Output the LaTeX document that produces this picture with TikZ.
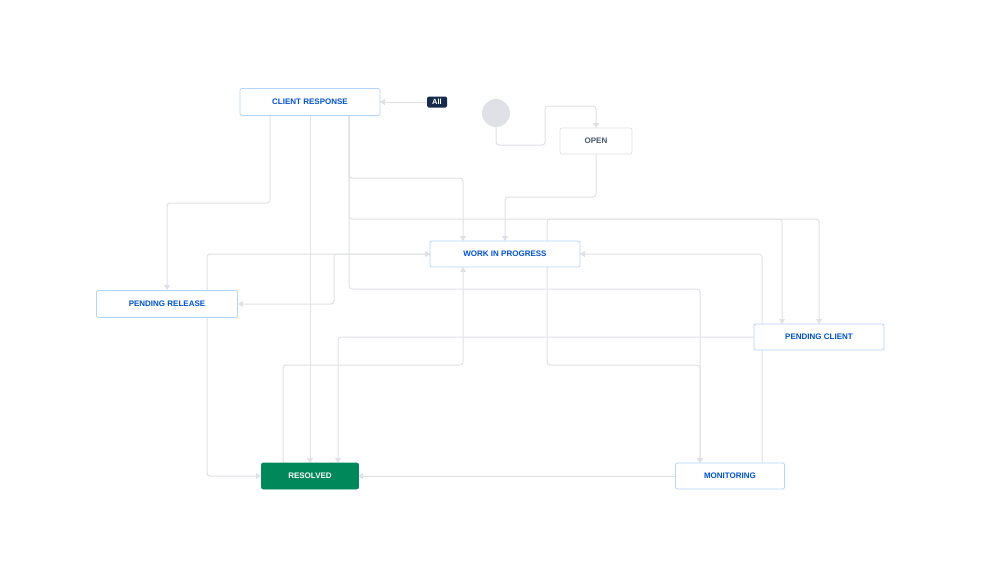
\documentclass[tikz,border=0pt]{standalone}
\usepackage{fontspec}
\setmainfont{Liberation Sans}
\usetikzlibrary{arrows.meta}
\definecolor{edge}{HTML}{DFE1E6}
\definecolor{jblue}{HTML}{0052CC}
\definecolor{bordb}{HTML}{B3D4FF}
\definecolor{jgreen}{HTML}{00875A}
\definecolor{navy}{HTML}{172B4D}
\begin{document}
\begin{tikzpicture}[x=1pt,y=-1pt,
  st/.style={draw=bordb,line width=0.8pt,rounded corners=2pt,fill=white,text=jblue,font=\fontsize{8}{9}\selectfont\bfseries,inner sep=0pt},
  conn/.style={draw=edge,line width=1pt,rounded corners=3pt,-{Triangle[width=6pt,length=5pt]}}]
\useasboundingbox (0,0) rectangle (999,579);
% connectors first
\coordinate (j1) at (349,115);
\draw[conn] (427,102) -- (380,102);
\draw[conn] (496,127) -- (496,145) -- (545,145) -- (545,106) -- (596,106) -- (596,128);
\draw[conn] (596,154) -- (596,197) -- (505,197) -- (505,241);
\draw[conn] (270,115) -- (270,203) -- (167,203) -- (167,290);
\draw[conn] (310,115) -- (310,463);
\draw[conn] (349,115) -- (349,178) -- (463,178) -- (463,241);
\draw[conn] (349,115) -- (349,219) -- (819,219) -- (819,324);
\draw[conn] (349,115) -- (349,289) -- (700,289) -- (700,463);
\draw[conn] (547,241) -- (547,219) -- (782,219) -- (782,324);
\draw[conn] (207,290) -- (207,254) -- (430,254);
\draw[conn] (430,254) -- (334,254) -- (334,304) -- (238,304);
\draw[conn] (207,317) -- (207,476) -- (261,476);
\draw[conn] (754,337) -- (338,337) -- (338,463);
\draw[conn] (283,463) -- (283,365) -- (463,365) -- (463,267);
\draw[conn] (547,267) -- (547,365) -- (700,365) -- (700,463);
\draw[conn] (676,476) -- (358,476);
\draw[conn] (762,463) -- (762,254) -- (580,254);
% nodes
\node[st,minimum width=140pt,minimum height=27pt] (cr) at (310,102) {CLIENT RESPONSE};
\node[fill=navy,text=white,rounded corners=1.5pt,font=\fontsize{7.5}{8}\selectfont\bfseries,inner sep=1.5pt,minimum width=20pt,minimum height=11pt] (all) at (437,102) {All};
\node[circle,fill=edge,minimum size=28pt,inner sep=0pt] (start) at (496,113) {};
\node[st,draw=edge,text=navy!80,font=\fontsize{8}{9}\selectfont\bfseries,minimum width=72pt,minimum height=26pt] (open) at (596,141) {OPEN};
\node[st,minimum width=150pt,minimum height=26pt] (wip) at (505,254) {WORK IN PROGRESS};
\node[st,minimum width=141pt,minimum height=27pt] (pr) at (167,304) {PENDING RELEASE};
\node[st,minimum width=130pt,minimum height=26pt] (pc) at (819,337) {PENDING CLIENT};
\node[st,draw=jgreen,fill=jgreen,text=white,minimum width=97pt,minimum height=26pt] (res) at (310,476) {RESOLVED};
\node[st,minimum width=109pt,minimum height=26pt] (mon) at (730,476) {MONITORING};
\end{tikzpicture}
\end{document}
